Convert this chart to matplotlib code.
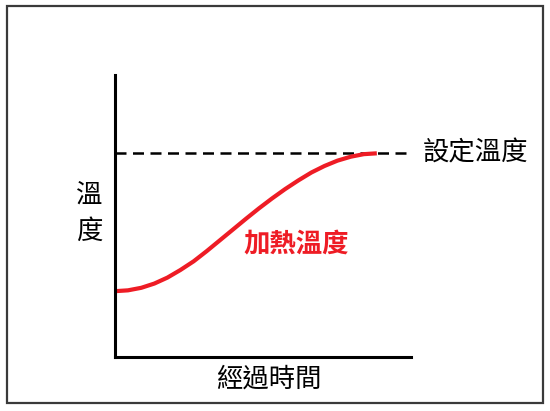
import matplotlib
matplotlib.use("Agg")
import matplotlib.pyplot as plt
from matplotlib.patches import Rectangle

plt.rcParams['font.family'] = ['Noto Sans CJK TC', 'DejaVu Sans']

# elapsed time (arbitrary units) and heating temperature
time = [0, 4.4, 8.9, 13.3, 17.7, 22.1, 26.6, 31.0, 35.4, 39.8, 44.3,
        48.7, 53.1, 57.5, 62.0, 66.4, 70.8, 75.2, 79.7, 84.1, 88.5]
heat_temp = [23.4, 23.7, 24.6, 26.1, 28.2, 30.9, 34.0, 37.6, 41.4, 45.2, 49.1,
             52.8, 56.3, 59.6, 62.7, 65.5, 67.8, 69.7, 71.1, 72.0, 72.3]
set_temp = 72.3

fig = plt.figure(figsize=(5.5, 4.11), dpi=100)
ax = fig.add_axes([0.209, 0.131, 0.538, 0.686])

ax.axhline(set_temp, color='black', lw=1.8, ls=(0, (4.4, 2.6)))
ax.plot(time, heat_temp, color='#ee1c25', lw=3, solid_capstyle='butt')

ax.set_xlim(0, 100)
ax.set_ylim(0, 100)
ax.set_xticks([])
ax.set_yticks([])
for s in ['top', 'right']:
    ax.spines[s].set_visible(False)
for s in ['left', 'bottom']:
    ax.spines[s].set_linewidth(2.2)

ax.text(104, set_temp, '設定溫度', fontsize=19, va='center', ha='left', clip_on=False)
ax.text(43.5, 39.8, '加熱溫度', fontsize=19, color='#ee1c25', fontweight='bold',
        va='center', ha='left')

fig.text(0.163, 0.482, '溫\n度', fontsize=19, ha='center', va='center', linespacing=1.45)
fig.text(0.488, 0.078, '經過時間', fontsize=19, ha='center', va='center')

fig.patches.append(Rectangle((7 / 550, 1 - 403 / 411), 536 / 550, 397 / 411,
                             transform=fig.transFigure, fill=False,
                             edgecolor='#3a3a3a', lw=1.6))

fig.savefig('out.png', dpi=100)
